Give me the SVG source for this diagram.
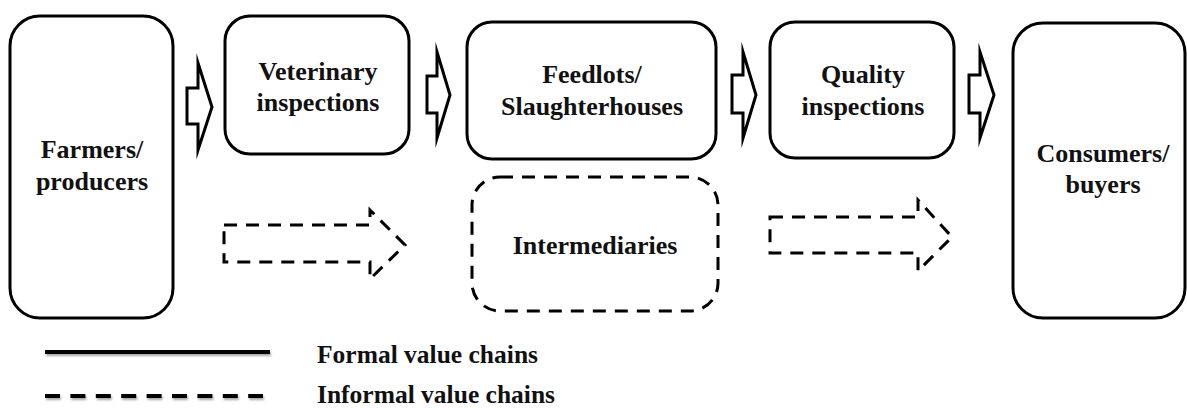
<svg xmlns="http://www.w3.org/2000/svg" width="1187" height="408" viewBox="0 0 1187 408">
  <style>
    .box { fill: #ffffff; stroke: #000000; stroke-width: 3; }
    .dash { fill: none; stroke: #000000; stroke-width: 3; stroke-dasharray: 13 9; }
    .flow { fill: #ffffff; stroke: #000000; stroke-width: 3; stroke-linejoin: miter; stroke-miterlimit: 10; }
    text { font-family: 'Liberation Serif', 'DejaVu Serif', 'Times New Roman', serif; font-weight: bold; fill: #111111; }
    .lbl { font-size: 26px; text-anchor: middle; }
    .leg { font-size: 25.5px; }
  </style>
  <defs>
    <filter id="soft" filterUnits="userSpaceOnUse" x="30" y="330" width="260" height="80">
      <feDropShadow dx="1" dy="2" stdDeviation="1.2" flood-color="#000000" flood-opacity="0.35"/>
    </filter>
  </defs>

  <rect width="1187" height="408" fill="#ffffff"/>

  <!-- formal chain nodes -->
  <g id="farmers">
    <rect class="box" x="10" y="16" width="163" height="302" rx="30"/>
    <text class="lbl" x="92" y="158">Farmers/</text>
    <text class="lbl" x="92" y="190">producers</text>
  </g>
  <g id="veterinary">
    <rect class="box" x="225" y="16" width="184" height="138" rx="25"/>
    <text class="lbl" x="318" y="80">Veterinary</text>
    <text class="lbl" x="318" y="111">inspections</text>
  </g>
  <g id="feedlots">
    <rect class="box" x="467" y="22" width="249" height="137" rx="25"/>
    <text class="lbl" x="592" y="83">Feedlots/</text>
    <text class="lbl" x="592" y="115">Slaughterhouses</text>
  </g>
  <g id="quality">
    <rect class="box" x="770" y="22" width="184" height="136" rx="25"/>
    <text class="lbl" x="863" y="83">Quality</text>
    <text class="lbl" x="863" y="115">inspections</text>
  </g>
  <g id="consumers">
    <rect class="box" x="1013" y="23" width="172" height="295" rx="30"/>
    <text class="lbl" x="1103" y="162">Consumers/</text>
    <text class="lbl" x="1103" y="193">buyers</text>
  </g>

  <!-- informal chain node -->
  <g id="intermediaries">
    <rect class="dash" x="472" y="177" width="246" height="134" rx="28"/>
    <text class="lbl" x="595" y="254">Intermediaries</text>
  </g>

  <!-- block arrows between stages -->
  <g id="connectors">
    <polygon class="flow" points="187,88 198,88 198,63 212,107 198,150 198,124 187,124"/>
    <polygon class="flow" points="427,76 437,76 437,52 450,95 437,138 437,113 427,113"/>
    <polygon class="flow" points="732,75 743,75 743,52 756,95 743,138 743,113 732,113"/>
    <polygon class="flow" points="969,75 980,75 980,52 994,95 980,138 980,113 969,113"/>
    <polygon class="dash" points="224,225 370,225 370,210 405,245 370,279 370,262 224,262"/>
    <polygon class="dash" points="770,217 918,217 918,200 952,237 918,271 918,253 770,253"/>
  </g>

  <!-- legend -->
  <g id="legend">
    <line x1="45" y1="352" x2="270" y2="352" stroke="#000000" stroke-width="4" filter="url(#soft)"/>
    <line x1="45" y1="396" x2="263" y2="396" stroke="#000000" stroke-width="4" stroke-dasharray="15 10.4" filter="url(#soft)"/>
    <text class="leg" x="317" y="363">Formal value chains</text>
    <text class="leg" x="317" y="403">Informal value chains</text>
  </g>
</svg>
